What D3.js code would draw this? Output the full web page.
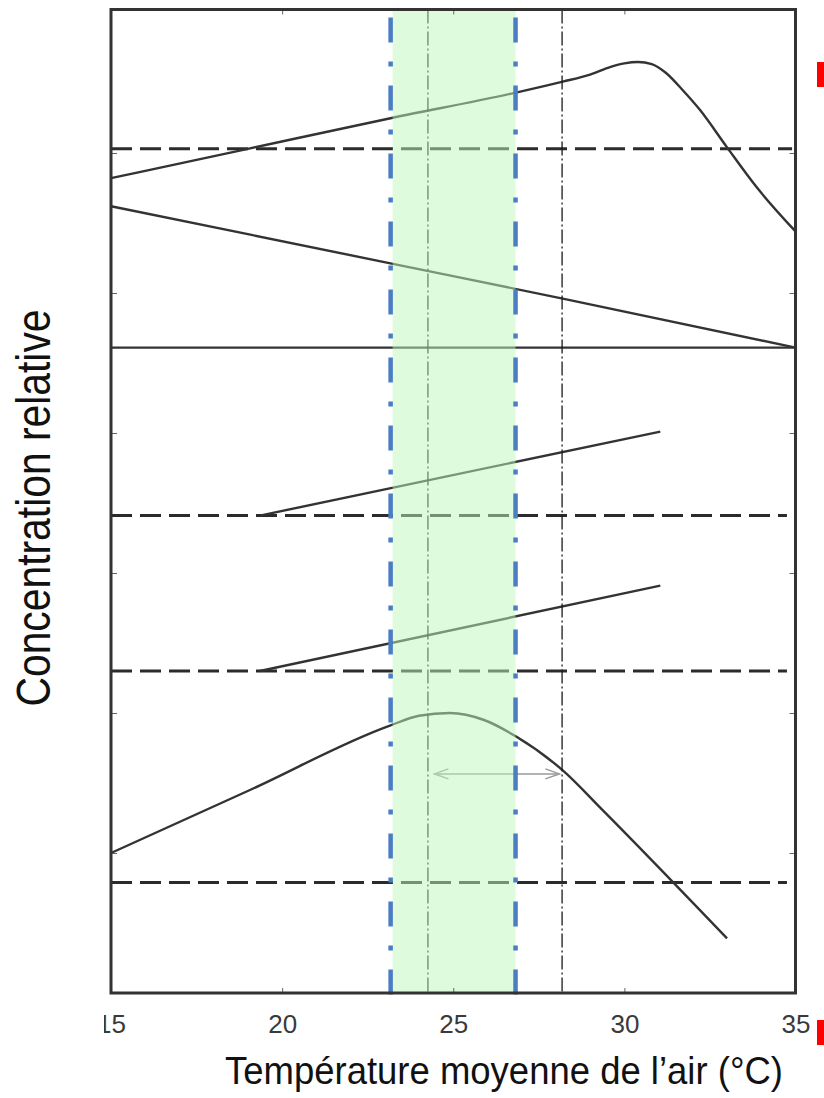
<!DOCTYPE html>
<html>
<head>
<meta charset="utf-8">
<script src="https://cdn.jsdelivr.net/npm/d3@7"></script>
<style>
	body { margin: 0; background: #fff; }
	svg { display: block; font-family: "Liberation Sans", Arial, sans-serif; }
</style>
</head>
<body>
<script>
// temperature axis
var tempTicks = [15, 20, 25, 30, 35];
var concTicks = [1, 2, 3, 4, 5, 6];

// curves (temperature, relative concentration)
var upperTemp = [15, 19, 23.2, 26.8, 28.2, 29.0, 29.6, 30.0, 30.4, 30.8, 31.2, 31.7, 32.2, 33.0, 33.85, 35];
var upperConc = [5.82, 6.03, 6.25, 6.43, 6.51, 6.56, 6.615, 6.64, 6.65, 6.635, 6.575, 6.45, 6.31, 6.04, 5.76, 5.44];
var fallingTemp = [15, 23.2, 28.2, 35];
var fallingConc = [5.62, 5.21, 4.96, 4.61];
var midTemp = [19.35, 31.05];
var midAConc = [3.41, 4.01];
var midBConc = [2.30, 2.91];
var lowerTemp = [15, 19.06, 23.15, 24.0, 24.9, 25.9, 26.85, 28.2, 29.35, 33.0];
var lowerConc = [1.00, 1.45, 1.91, 1.98, 2.00, 1.95, 1.83, 1.59, 1.31, 0.39];

// reference levels
var solidLevel = 4.61;
var dashedLevels = [6.03, 3.41, 2.30, 0.79];
var dashedEnd = [34.9, 34.75, 34.75, 34.75];

// vertical markers
var bandTemps = [23.17, 26.82];
var markerTemps = [24.26, 28.18];
var arrowTemps = [24.45, 28.1];
var arrowConc = 1.565;

var width = 824;
var height = 1098;
var plotLeft = 111, plotRight = 795.5, plotTop = 9.5, plotBottom = 993;

var x = d3.scaleLinear().domain([15, 35]).range([plotLeft, plotRight]);
var y = d3.scaleLinear().domain([0, 7.025]).range([plotBottom, plotTop]);

var svg = d3.select('body')
.append('svg')
.attr('width', width)
.attr('height', height);

var defs = svg.append('defs');
defs.append('clipPath')
.attr('id', 'label-clip')
.append('rect')
.attr('x', 104)
.attr('y', -10)
.attr('width', 720)
.attr('height', 70);

var line = d3.line()
.x(function(d){ return x(d[0]); })
.y(function(d){ return y(d[1]); })
.curve(d3.curveMonotoneX);

function pairs(xs, ys){
	return xs.map(function(t, i){ return [t, ys[i]]; });
}

var plot = svg.append('g');

// dashed reference levels
plot.selectAll('.level')
.data(dashedLevels)
.enter()
.append('line')
.attr('class', 'level')
.attr('x1', x(15))
.attr('x2', function(d, i){ return x(dashedEnd[i]); })
.attr('y1', function(d){ return y(d); })
.attr('y2', function(d){ return y(d); })
.attr('stroke', '#2b2b2b')
.attr('stroke-width', 3)
.attr('stroke-dasharray', '21,8');

plot.append('line')
.attr('x1', x(15))
.attr('x2', x(35))
.attr('y1', y(solidLevel))
.attr('y2', y(solidLevel))
.attr('stroke', '#333')
.attr('stroke-width', 2.2);

// curves
var curves = [
	pairs(upperTemp, upperConc),
	pairs(fallingTemp, fallingConc),
	pairs(midTemp, midAConc),
	pairs(midTemp, midBConc),
	pairs(lowerTemp, lowerConc)
];

plot.selectAll('.curve')
.data(curves)
.enter()
.append('path')
.attr('class', 'curve')
.attr('d', line)
.attr('fill', 'none')
.attr('stroke', '#333')
.attr('stroke-width', 2.4);

// thin dash-dot markers
plot.selectAll('.marker')
.data(markerTemps)
.enter()
.append('line')
.attr('class', 'marker')
.attr('x1', function(d){ return x(d); })
.attr('x2', function(d){ return x(d); })
.attr('y1', y(7.025))
.attr('y2', y(0))
.attr('stroke', '#1a1a1a')
.attr('stroke-width', 1.3)
.attr('stroke-dasharray', '14,3,2,3');

// double arrow
var ay = y(arrowConc);
var ax1 = x(arrowTemps[0]);
var ax2 = x(arrowTemps[1]);
var arrow = plot.append('g')
.attr('fill', 'none')
.attr('stroke', '#9a9a9a')
.attr('stroke-width', 1.5);
arrow.append('line')
.attr('x1', ax1).attr('x2', ax2)
.attr('y1', ay).attr('y2', ay);
arrow.append('path')
.attr('d', 'M' + (ax1 + 14) + ',' + (ay - 5) + 'L' + ax1 + ',' + ay + 'L' + (ax1 + 14) + ',' + (ay + 5));
arrow.append('path')
.attr('d', 'M' + (ax2 - 14) + ',' + (ay - 5) + 'L' + ax2 + ',' + ay + 'L' + (ax2 - 14) + ',' + (ay + 5));

// green band (on top, semi transparent)
plot.append('rect')
.attr('x', x(bandTemps[0]) + 2)
.attr('y', y(7.025))
.attr('width', x(bandTemps[1]) - x(bandTemps[0]) - 2)
.attr('height', y(0) - y(7.025))
.attr('fill', 'rgb(190,248,190)')
.attr('fill-opacity', 0.5);

// blue dash-dot band limits
plot.selectAll('.band')
.data(bandTemps)
.enter()
.append('line')
.attr('class', 'band')
.attr('x1', function(d){ return x(d); })
.attr('x2', function(d){ return x(d); })
.attr('y1', y(7.025))
.attr('y2', y(-0.09))
.attr('stroke', '#4a7dc3')
.attr('stroke-width', 4.5)
.attr('stroke-dasharray', '25,19,5,19')
.attr('stroke-dashoffset', 60);

// axes: inward ticks
var axisB = svg.append('g')
.attr('transform', 'translate(0,' + plotBottom + ')')
.call(d3.axisBottom(x).tickValues(tempTicks).tickSize(-5).tickPadding(22).tickFormat(d3.format('d')));
var axisT = svg.append('g')
.attr('transform', 'translate(0,' + plotTop + ')')
.call(d3.axisTop(x).tickValues(tempTicks).tickSize(-5).tickFormat(''));
var axisL = svg.append('g')
.attr('transform', 'translate(' + plotLeft + ',0)')
.call(d3.axisLeft(y).tickValues(concTicks).tickSize(-6).tickFormat(''));
var axisR = svg.append('g')
.attr('transform', 'translate(' + plotRight + ',0)')
.call(d3.axisRight(y).tickValues(concTicks).tickSize(-6).tickFormat(''));

[axisB, axisT, axisL, axisR].forEach(function(a){
	a.select('.domain').remove();
	a.selectAll('.tick line').attr('stroke', '#666').attr('stroke-width', 1);
});

axisB.attr('clip-path', 'url(#label-clip)');
axisB.selectAll('.tick text')
.attr('font-size', 26)
.attr('font-family', '"Liberation Sans", Arial, sans-serif')
.attr('fill', '#3a3a3a');

// frame
svg.append('rect')
.attr('x', plotLeft)
.attr('y', plotTop)
.attr('width', plotRight - plotLeft)
.attr('height', plotBottom - plotTop)
.attr('fill', 'none')
.attr('stroke', '#333')
.attr('stroke-width', 3);

// axis titles
svg.append('text')
.attr('x', 225)
.attr('y', 1084)
.attr('font-size', 39)
.attr('fill', '#111')
.attr('textLength', 558)
.attr('lengthAdjust', 'spacingAndGlyphs')
.text('Température moyenne de l’air (°C)');

svg.append('text')
.attr('transform', 'translate(50,508) rotate(-90)')
.attr('text-anchor', 'middle')
.attr('font-size', 48)
.attr('fill', '#111')
.attr('textLength', 397)
.attr('lengthAdjust', 'spacingAndGlyphs')
.text('Concentration relative');

// red edge marks
svg.append('rect').attr('x', 817).attr('y', 62).attr('width', 7).attr('height', 25).attr('fill', '#ff0000');
svg.append('rect').attr('x', 817).attr('y', 1020).attr('width', 7).attr('height', 25).attr('fill', '#ff0000');
</script>
</body>
</html>
